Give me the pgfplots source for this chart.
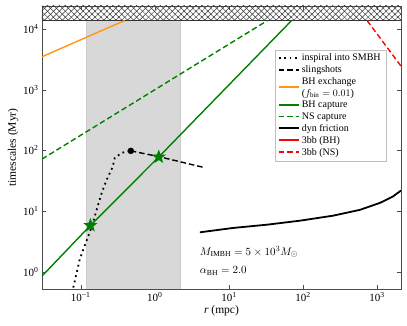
\documentclass[border=0pt]{standalone}
\usepackage{fontspec}
\setmainfont{Liberation Serif}
\usepackage{pgfplots}
\pgfplotsset{compat=1.18}
\usetikzlibrary{patterns.meta,shapes.geometric}

\definecolor{mplgreen}{RGB}{0,128,0}
\definecolor{mplorange}{RGB}{255,150,20}
\definecolor{mplred}{RGB}{255,0,0}
\definecolor{shade}{RGB}{216,216,216}

\pgfdeclareplotmark{fstar}{%
  \node[star, star points=5, star point ratio=2.4, fill=mplgreen, draw=none,
        inner sep=0pt, minimum size=15pt] {};}

\begin{document}
\begin{tikzpicture}
\begin{axis}[
    at={(0,0)}, anchor=south west,
    scale only axis, width=359pt, height=283pt,
    xmode=log, ymode=log, log basis x=10, log basis y=10,
    xmin=0.03, xmax=2100, ymin=0.52, ymax=2.4e4,
    xtick={0.1,1,10,100,1000}, ytick={1,10,100,1000,10000},
    xticklabel={10\textsuperscript{\pgfmathtruncatemacro\e{round(\tick)}\ifnum\e<0 −\number-\e\else\e\fi}},
    yticklabel={10\textsuperscript{\pgfmathtruncatemacro\e{round(\tick)}\e}},
    tick label style={font=\fontsize{11}{13}\selectfont},
    tick style={black!70},
    axis line style={black!70},
    xlabel={\textit{r} (mpc)}, ylabel={timescales (Myr)},
    label style={font=\fontsize{11.5}{13}\selectfont},
    xlabel style={yshift=3pt}, ylabel style={yshift=-2pt},
    legend style={at={(0.958,0.845)}, anchor=north east,
      font=\fontsize{10}{11.5}\selectfont, draw=black!25,
      row sep=-0.5pt, cells={align=left}},
    legend cell align=left,
    legend image code/.code={\draw[#1, line width=1.9pt] (0pt,0.5pt) -- (20pt,0.5pt);},
    clip=true,
]
% shaded band and Hubble-time hatch
\addplot[fill=shade, draw=black!20, forget plot] coordinates {(0.117,0.52) (2.18,0.52) (2.18,1.38e4) (0.117,1.38e4)} -- cycle;
\addplot[draw=none, pattern={Lines[angle=45,distance=4.2pt,line width=0.5pt]}, pattern color=black!80, forget plot] coordinates {(0.03,1.38e4) (2100,1.38e4) (2100,2.4e4) (0.03,2.4e4)} -- cycle;
\addplot[draw=none, pattern={Lines[angle=-45,distance=4.2pt,line width=0.5pt]}, pattern color=black!80, forget plot] coordinates {(0.03,1.38e4) (2100,1.38e4) (2100,2.4e4) (0.03,2.4e4)} -- cycle;
\addplot[black!80, line width=0.9pt, forget plot] coordinates {(0.03,1.38e4) (2100,1.38e4)};

% inspiral into SMBH
\addplot[black, line width=1.8pt, dash pattern=on 1.8pt off 3.6pt] coordinates {
  (0.0760,0.45) (0.0804,0.59) (0.0968,1.59) (0.117,3.02) (0.141,5.53) (0.164,10.5)
  (0.192,20.1) (0.224,32.8) (0.270,53.7) (0.288,75.5) (0.358,91.4) (0.474,98.4)};
\addlegendentry{inspiral into SMBH}
% slingshots
\addplot[black, line width=1.4pt, dash pattern=on 5.5pt off 3pt] coordinates {
  (0.474,98.4) (1.13,79) (4.7,52)};
\addlegendentry{slingshots}
% BH exchange
\addplot[mplorange, line width=1.4pt] coordinates {(0.03,3500) (0.39,1.38e4)};
\addlegendentry{BH exchange\\($f_{\mathrm{bin}}=0.01$)}
% BH capture
\addplot[mplgreen, line width=1.4pt] coordinates {(0.03,0.85) (0.135,5.8) (1.13,78) (70,1.38e4)};
\addlegendentry{BH capture}
% NS capture
\addplot[mplgreen, line width=1.4pt, dash pattern=on 5.5pt off 3pt] coordinates {(0.03,72) (33,1.38e4)};
\addlegendentry{NS capture}
% dynamical friction
\addplot[black, line width=1.8pt] coordinates {
  (4.06,4.47) (11.3,5.27) (32.6,5.97) (91,6.95) (254,8.4) (589,10.5)
  (1099,13.7) (1644,17.5) (2100,21.8)};
\addlegendentry{dyn friction}
% three-body binaries (BH line lies above the Hubble time)
\addplot[mplred, line width=1.4pt, solid] coordinates {(2000,3.0e4) (2100,2.9e4)};
\addlegendentry{3bb (BH)}
\addplot[mplred, line width=1.4pt, dash pattern=on 5.5pt off 3pt] coordinates {(733,1.38e4) (2100,2450)};
\addlegendentry{3bb (NS)}

% markers
\addplot[only marks, mark=*, mark size=3pt, black, forget plot] coordinates {(0.474,98.4)};
\addplot[only marks, mark=fstar, forget plot] coordinates {(0.135,5.8) (1.13,78)};

\node[anchor=west, font=\fontsize{11}{13}\selectfont] at (rel axis cs:0.43,0.131) {$M_{\mathrm{IMBH}} = 5\times10^{3} M_{\odot}$};
\node[anchor=west, font=\fontsize{11}{13}\selectfont] at (rel axis cs:0.43,0.064) {$\alpha_{\mathrm{BH}} = 2.0$};
\end{axis}
\pgfresetboundingbox
\path[use as bounding box] (-42pt,-37pt) rectangle (365pt,289pt);
\end{tikzpicture}
\end{document}
